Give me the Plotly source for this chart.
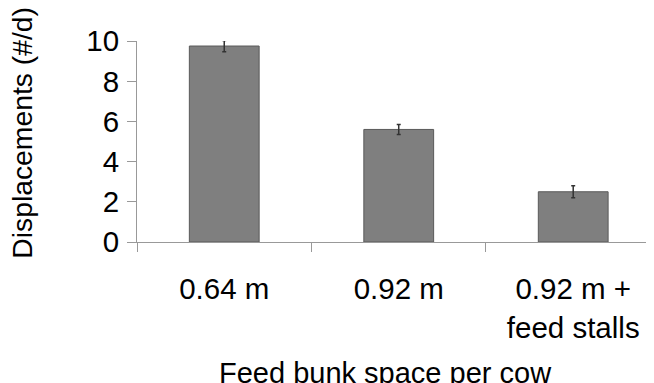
import plotly.graph_objects as go

categories = ["0.64 m", "0.92 m", "0.92 m +<br>feed stalls"]
values = [9.75, 5.6, 2.5]
errors = [0.28, 0.25, 0.3]
y_ticks = [0, 2, 4, 6, 8, 10]
x_title = "Feed bunk space per cow"
y_title = "Displacements (#/d)"

FONT = "Liberation Sans, Arial, sans-serif"

fig = go.Figure(
    go.Bar(
        x=categories,
        y=values,
        width=0.4,
        marker=dict(color="#7f7f7f", line=dict(color="#5a5a5a", width=1)),
        error_y=dict(type="data", array=errors, visible=True,
                     color="#333333", thickness=1.5, width=2),
    )
)

fig.update_layout(
    width=654, height=383,
    margin=dict(l=129, r=8, t=33, b=149),
    paper_bgcolor="white", plot_bgcolor="white",
    font=dict(family=FONT, size=29, color="black"),
    showlegend=False,
    bargap=0.6,
    annotations=[
        dict(text=x_title, xref="paper", yref="paper", x=0.48, y=-0.56,
             xanchor="center", yanchor="top", showarrow=False,
             font=dict(size=29)),
        dict(text=y_title, xref="paper", yref="paper", x=-0.222, y=0.545,
             xanchor="center", yanchor="middle", textangle=-90,
             showarrow=False, font=dict(size=28.3)),
    ],
)
fig.update_xaxes(
    type="category",
    range=[-0.5, 2.463],
    automargin=False,
    showline=True, linecolor="#999999", linewidth=1,
    ticks="outside", tickson="boundaries", ticklen=9, tickcolor="#999999",
    ticklabelstandoff=21,
    showgrid=False, zeroline=False,
    tickfont=dict(size=29.5),
)
fig.update_yaxes(
    range=[0, 10],
    tickvals=y_ticks,
    automargin=False,
    showline=True, linecolor="#999999", linewidth=1,
    ticks="outside", ticklen=9, tickcolor="#999999",
    ticklabelstandoff=2,
    showgrid=False, zeroline=False,
    tickfont=dict(size=29.5),
)

fig.write_html("out.html")
